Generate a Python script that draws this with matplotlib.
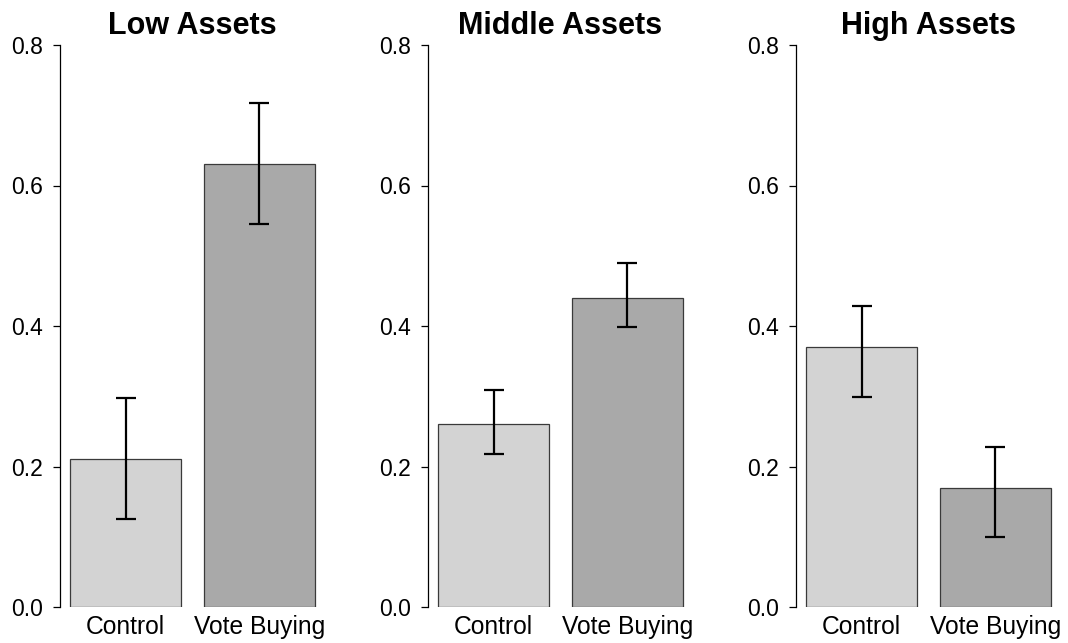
import matplotlib.pyplot as plt

plt.rcParams["font.family"] = ["Liberation Sans", "DejaVu Sans"]

groups = ["Low Assets", "Middle Assets", "High Assets"]
conditions = ["Control", "Vote Buying"]
means = [[0.21, 0.63], [0.26, 0.44], [0.37, 0.17]]
ci_low = [[0.125, 0.545], [0.218, 0.398], [0.299, 0.099]]
ci_high = [[0.298, 0.718], [0.309, 0.49], [0.428, 0.228]]
yticks = [0.0, 0.2, 0.4, 0.6, 0.8]

fill = ["#d3d3d3", "#a9a9a9"]
xpos = [0.7, 1.9]

fig = plt.figure(figsize=(10.68, 6.43), dpi=100)
lefts = [60, 428, 796]
W, H = 1068, 643

for i, g in enumerate(groups):
    ax = fig.add_axes([lefts[i] / W, 36 / H, 265 / W, 562 / H])
    ax.bar(xpos, means[i], width=1.0, color=fill, edgecolor="#3a3a3a", linewidth=0.9)
    lo = [m - l for m, l in zip(means[i], ci_low[i])]
    hi = [h - m for m, h in zip(means[i], ci_high[i])]
    ax.errorbar(xpos, means[i], yerr=[lo, hi], fmt="none", ecolor="black",
                elinewidth=1.6, capsize=7, capthick=1.6)
    ax.set_xlim(0.112, 2.488)
    ax.set_ylim(0, 0.8)
    ax.set_yticks(yticks)
    ax.set_yticklabels([f"{t:.1f}" for t in yticks])
    ax.set_xticks(xpos)
    ax.set_xticklabels(conditions)
    ax.tick_params(axis="y", length=5, width=0.9, pad=7, labelsize=16.5)
    ax.tick_params(axis="x", length=0, pad=6, labelsize=17.7)
    for s in ["top", "right", "bottom"]:
        ax.spines[s].set_visible(False)
    ax.spines["left"].set_bounds(0, 0.8)
    ax.spines["left"].set_linewidth(0.9)
    ax.set_title(g, fontsize=22, fontweight="bold", pad=8)

fig.savefig("out.png", dpi=100)
